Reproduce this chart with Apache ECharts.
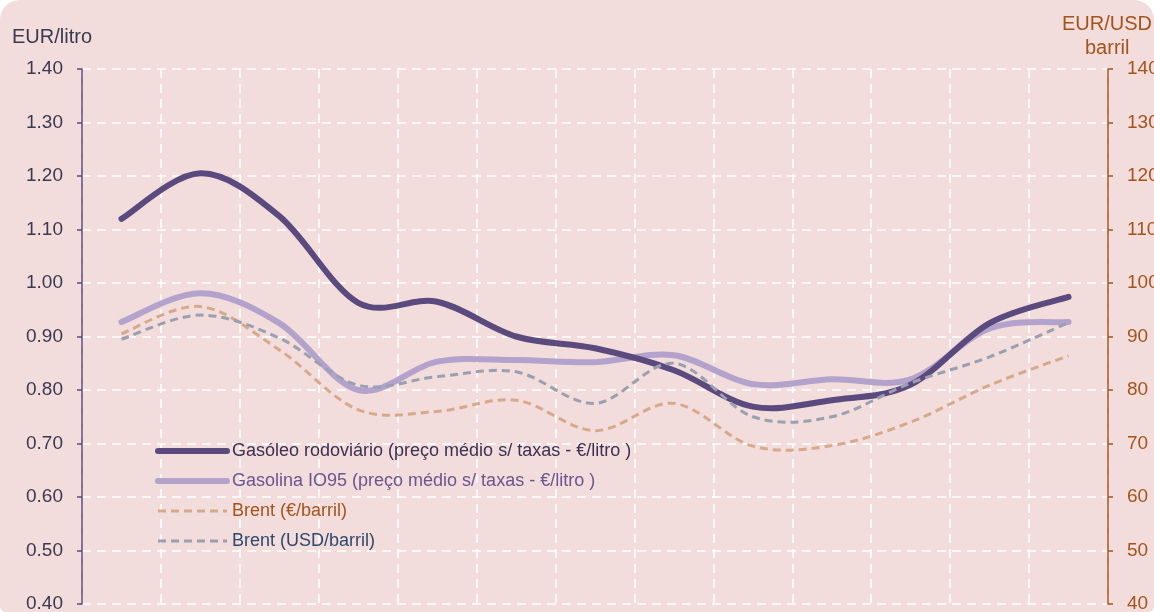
<!DOCTYPE html>
<html>
<head>
<meta charset="utf-8">
<script src="https://cdn.jsdelivr.net/npm/echarts@6/dist/echarts.min.js"></script>
<style>
  html, body { margin: 0; padding: 0; background: #ffffff; }
  #chart { width: 1154px; height: 612px; background: #f2dcdc; border-radius: 20px 20px 6px 6px; overflow: hidden; }
</style>
</head>
<body>
<div id="chart"></div>
<script>
// Data (13 periods; category labels are not visible in the reference crop)
var categories = ['1', '2', '3', '4', '5', '6', '7', '8', '9', '10', '11', '12', '13'];
var gasoleo   = [1.12, 1.205, 1.125, 0.963, 0.965, 0.90, 0.878, 0.837, 0.769, 0.781, 0.81, 0.925, 0.974];
var gasolina  = [0.927, 0.981, 0.925, 0.80, 0.853, 0.856, 0.852, 0.865, 0.811, 0.82, 0.82, 0.915, 0.927];
var brentEur  = [90.5, 95.6, 87.5, 76.3, 76.0, 78.1, 72.4, 77.5, 69.5, 69.6, 74.0, 80.9, 86.4];
var brentUsd  = [89.5, 94.0, 89.7, 80.9, 82.5, 83.4, 77.5, 85.0, 75.0, 75.0, 81.3, 86.2, 92.6];
var leftTicks = { min: 0.4, max: 1.4, interval: 0.1 };
var rightTicks = { min: 40, max: 140, interval: 10 };

var names = [
  'Gasóleo rodoviário (preço médio s/ taxas - €/litro )',
  'Gasolina IO95 (preço médio s/ taxas - €/litro )',
  'Brent (€/barril)',
  'Brent (USD/barril)'
];
var colors = ['#5b4a7e', '#b3a2cc', '#d6a98a', '#9aa0b0'];
var textColors = ['#3a3050', '#6b5590', '#a3541c', '#2e4a6b'];
var widths = [6, 6, 3, 3];
var dashes = [null, null, [8, 5], [8, 5]];
var axisIdx = [0, 0, 1, 1];
var seriesData = [gasoleo, gasolina, brentEur, brentUsd];

var chart = echarts.init(document.getElementById('chart'), null, { renderer: 'canvas' });
var font = 'Liberation Sans, Arial, sans-serif';

// Smooth curve through the data points (Catmull-Rom, like the spreadsheet's smoothed line),
// positioned through the chart's own axes via api.coord.
function curveRenderer(values, color, width, dash) {
  return function (params, api) {
    if (params.dataIndex !== 0) return null;
    var p = values.map(function (v, i) { return api.coord([i, v]); });
    var n = p.length;
    var d = 'M' + p[0][0] + ' ' + p[0][1];
    for (var i = 0; i < n - 1; i++) {
      var p0 = p[Math.max(i - 1, 0)], p1 = p[i], p2 = p[i + 1], p3 = p[Math.min(i + 2, n - 1)];
      var c1x = p1[0] + (p2[0] - p0[0]) / 6, c1y = p1[1] + (p2[1] - p0[1]) / 6;
      var c2x = p2[0] - (p3[0] - p1[0]) / 6, c2y = p2[1] - (p3[1] - p1[1]) / 6;
      d += ' C' + c1x + ' ' + c1y + ' ' + c2x + ' ' + c2y + ' ' + p2[0] + ' ' + p2[1];
    }
    return {
      type: 'path',
      silent: true,
      shape: { pathData: d },
      style: { fill: null, stroke: color, lineWidth: width, lineDash: dash, lineCap: dash ? 'butt' : 'round', lineJoin: 'round' }
    };
  };
}

var series = [];
// Line series: carry the data and the legend entries
for (var k = 0; k < 4; k++) {
  series.push({
    name: names[k], type: 'line', yAxisIndex: axisIdx[k], data: seriesData[k],
    symbol: 'none', silent: true, z: 1,
    lineStyle: { color: 'rgba(0,0,0,0)', width: widths[k] },
    itemStyle: { color: colors[k] }
  });
}
// Drawn smoothed curves
var zOrder = [3, 2, 4, 4];
for (var m = 0; m < 4; m++) {
  series.push({
    name: 'curve' + m, type: 'custom', yAxisIndex: axisIdx[m],
    data: seriesData[m].map(function (v, i) { return [i, v]; }),
    encode: { x: 0, y: 1 },
    clip: false, silent: true, z: zOrder[m],
    renderItem: curveRenderer(seriesData[m], colors[m], widths[m], dashes[m])
  });
}

chart.setOption({
  backgroundColor: 'transparent',
  animation: false,
  textStyle: { fontFamily: font },
  grid: { left: 82, right: 46, top: 69, bottom: 8, containLabel: false, outerBoundsMode: 'none' },
  graphic: [
    { type: 'text', left: 12, top: 27, style: { text: 'EUR/litro', font: '20px ' + font, fill: '#3b3950' } },
    { type: 'text', left: 1062, top: 14, style: { text: 'EUR/USD', font: '20px ' + font, fill: '#a3541c' } },
    { type: 'text', left: 1085, top: 38, style: { text: 'barril', font: '20px ' + font, fill: '#a3541c' } }
  ],
  legend: {
    orient: 'vertical',
    left: 155,
    top: 442,
    padding: 0,
    itemWidth: 69,
    itemHeight: 18,
    itemGap: 12,
    selectedMode: false,
    itemStyle: { opacity: 0 },
    textStyle: { fontSize: 18, fontFamily: font },
    data: names.map(function (nm, i) {
      var ls = { width: widths[i], color: colors[i], opacity: 1, cap: dashes[i] ? 'butt' : 'round' };
      if (dashes[i]) ls.type = dashes[i];
      return { name: nm, textStyle: { color: textColors[i] }, lineStyle: ls };
    })
  },
  xAxis: {
    type: 'category',
    data: categories,
    boundaryGap: true,
    axisLine: { show: false },
    axisTick: { show: false },
    axisLabel: { show: false },
    splitLine: { show: true, interval: 0, lineStyle: { color: '#ffffff', width: 1.5, type: [9, 6] } }
  },
  yAxis: [
    {
      type: 'value',
      min: leftTicks.min, max: leftTicks.max, interval: leftTicks.interval,
      axisLine: { show: true, lineStyle: { color: '#5c4a7c', width: 1.5 } },
      axisTick: { show: true, length: 5, lineStyle: { color: '#5c4a7c', width: 1.5 } },
      axisLabel: { color: '#3b3950', fontSize: 19, margin: 19, formatter: function (v) { return v.toFixed(2); } },
      splitLine: { show: true, lineStyle: { color: '#ffffff', width: 1.5, type: [9, 6] } }
    },
    {
      type: 'value',
      position: 'right',
      min: rightTicks.min, max: rightTicks.max, interval: rightTicks.interval,
      axisLine: { show: true, lineStyle: { color: '#a3541c', width: 1.5 } },
      axisTick: { show: true, length: 5, lineStyle: { color: '#a3541c', width: 1.5 } },
      axisLabel: { color: '#a3541c', fontSize: 19, margin: 19 },
      splitLine: { show: false }
    }
  ],
  series: series
});
</script>
</body>
</html>
